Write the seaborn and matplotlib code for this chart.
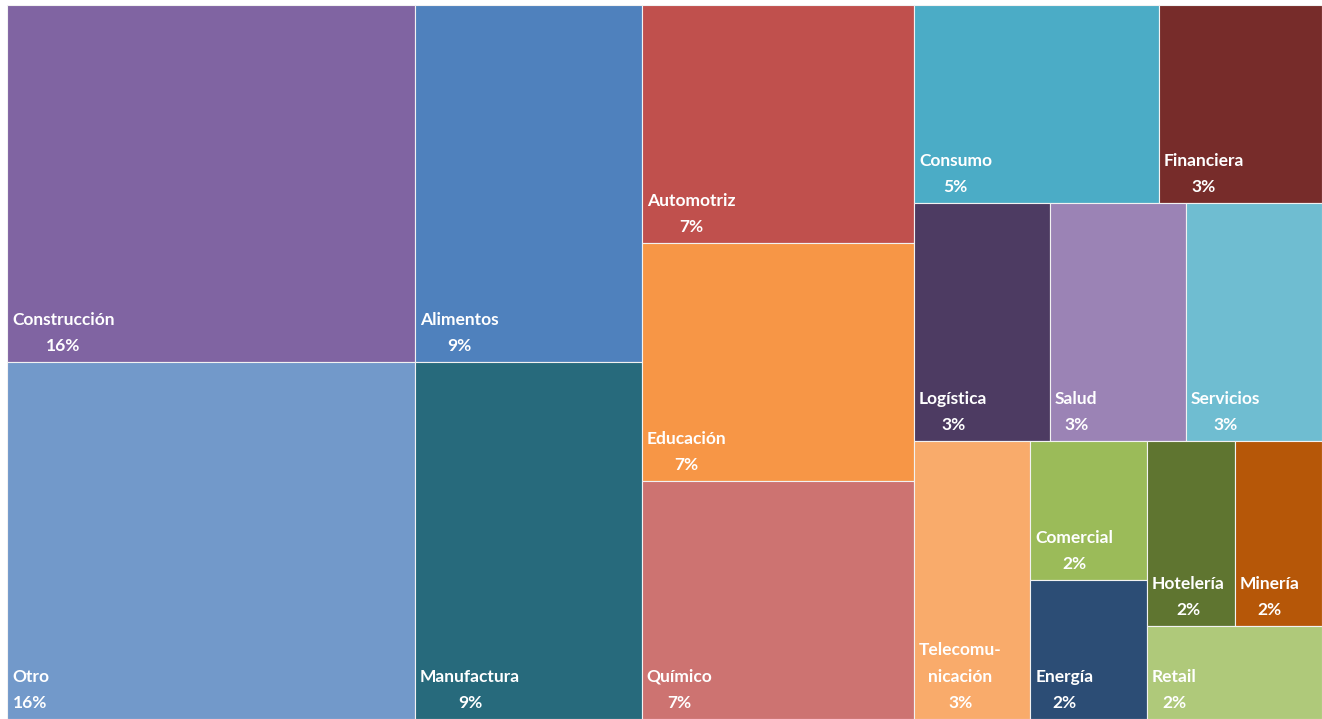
import matplotlib
matplotlib.use("Agg")
import matplotlib.pyplot as plt
import seaborn as sns

# ---- data ----
categories = ["Construcción", "Otro", "Alimentos", "Manufactura", "Automotriz",
              "Educación", "Químico", "Consumo", "Financiera", "Logística",
              "Salud", "Servicios", "Telecomunicación", "Comercial", "Energía",
              "Hotelería", "Minería", "Retail"]
label_names = ["Construcción", "Otro", "Alimentos", "Manufactura", "Automotriz",
               "Educación", "Químico", "Consumo", "Financiera", "Logística",
               "Salud", "Servicios", "Telecomu-\nnicación", "Comercial", "Energía",
               "Hotelería", "Minería", "Retail"]
counts = [9, 9, 5, 5, 4, 4, 4, 3, 2, 2, 2, 2, 2, 1, 1, 1, 1, 1]
colors = ["#8064A2", "#7299CA", "#4F81BD", "#276A7C", "#C0504D",
          "#F79646", "#CD7371", "#4BACC6", "#772C2A", "#4D3B62",
          "#9B83B5", "#6FBDD1", "#F9AB6B", "#9BBB59", "#2C4D75",
          "#5F7530", "#B65708", "#AFC97A"]
# strip structure of the treemap: (number of items, orientation)
strips = [(2, "v"), (2, "v"), (3, "v"), (2, "h"), (3, "h"),
          (1, "v"), (2, "v"), (2, "h"), (1, "h")]

total = sum(counts)
pct_labels = [f"{round(c / total * 100)}%" for c in counts]

sns.set_theme(style="white")
plt.rcParams["font.family"] = ["Lato", "DejaVu Sans"]

W_PX, H_PX = 1322, 719
fig = plt.figure(figsize=(W_PX / 100, H_PX / 100), dpi=100)
left, right, top, bottom = 7, 1322, 5, 719
ax = fig.add_axes([left / W_PX, 1 - bottom / H_PX,
                   (right - left) / W_PX, (bottom - top) / H_PX])
W, H = right - left, bottom - top


def squarish_layout(vals, strips, W, H):
    x, y, w, h = 0.0, 0.0, float(W), float(H)
    rects = []
    i = 0
    for n, orient in strips:
        group = vals[i:i + n]
        s = sum(group)
        rem = sum(vals[i:])
        if orient == "v":
            sw = w * s / rem
            yy = y
            for v in group:
                hh = h * v / s
                rects.append((x, yy, sw, hh))
                yy += hh
            x += sw
            w -= sw
        else:
            sh = h * s / rem
            xx = x
            for v in group:
                ww = w * v / s
                rects.append((xx, y, ww, sh))
                xx += ww
            y += sh
            h -= sh
        i += n
    return rects


rects = squarish_layout(counts, strips, W, H)
ax.bar([r[0] for r in rects], [r[3] for r in rects],
       width=[r[2] for r in rects], bottom=[r[1] for r in rects],
       align="edge", color=colors, edgecolor="#f2f2f2", linewidth=0.8)

for (rx, ry, rw, rh), name, pct in zip(rects, label_names, pct_labels):
    ax.annotate(f"{name}\n{pct}", xy=(rx, ry + rh), xytext=(5, 8),
                textcoords="offset pixels", ha="left", va="bottom",
                multialignment="center", color="white", fontsize=12.5,
                fontweight="bold", linespacing=1.8)

ax.set_xlim(0, W)
ax.set_ylim(H, 0)
ax.set_axis_off()
fig.savefig("out.png", dpi=100, facecolor="white")
